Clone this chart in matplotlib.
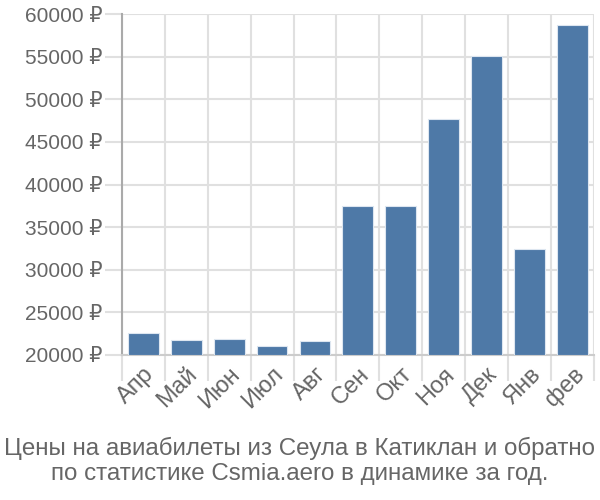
import matplotlib
matplotlib.use("Agg")
import matplotlib.pyplot as plt
import numpy as np

plt.rcParams['font.family'] = ['Liberation Sans', 'DejaVu Sans']

months = ["Апр", "Май", "Июн", "Июл", "Авг", "Сен", "Окт", "Ноя", "Дек", "Янв", "фев"]
prices = [22550, 21760, 21880, 21060, 21640, 37480, 37480, 47680, 55070, 32430, 58750]
yticks = [20000, 25000, 30000, 35000, 40000, 45000, 50000, 55000, 60000]
title = "Цены на авиабилеты из Сеула в Катиклан и обратно\nпо статистике Csmia.aero в динамике за год."

grid_c = "#e0e0e0"
text_c = "#666666"

fig = plt.figure(figsize=(6, 5), dpi=100)
ax = fig.add_axes([0.203, 0.29, 0.787, 0.682])

x = np.arange(len(months))
ax.bar(x, [p - 20000 for p in prices], bottom=20000, width=0.72,
       color="#4e79a7", edgecolor="#dde6f0", linewidth=0.8, zorder=3)

ax.set_xlim(-0.5, len(months) - 0.5)
ax.set_ylim(20000, 60000)
ax.set_yticks(yticks)
ax.set_yticklabels([f"{v} ₽" for v in yticks], color=text_c, fontsize=15)

# category boundaries carry the vertical grid
ax.set_xticks(np.arange(len(months) + 1) - 0.5)
ax.set_xticklabels([])
ax.set_xticks(x, minor=True)
ax.set_xticklabels(months, minor=True, rotation=45, ha="right",
                   rotation_mode="anchor", color=text_c, fontsize=17)
ax.tick_params(axis="x", which="major", length=19, color=grid_c, width=1.5)
ax.tick_params(axis="x", which="minor", length=0, pad=6)
ax.tick_params(axis="y", length=12, color=grid_c, width=1.5, pad=2)

ax.grid(True, which="major", color=grid_c, lw=1.5, zorder=0)
for s in ["top", "right"]:
    ax.spines[s].set_visible(False)
ax.spines["left"].set_color("#aaaaaa")
ax.spines["left"].set_linewidth(1.5)
ax.spines["left"].set_bounds(20000, 60000)
ax.spines["bottom"].set_color("#cccccc")
ax.spines["bottom"].set_linewidth(1.5)

fig.text(0.5, 0.078, title, ha="center", va="center", color=text_c,
         fontsize=17.4, linespacing=1.22)

fig.savefig("out.png", dpi=100)
